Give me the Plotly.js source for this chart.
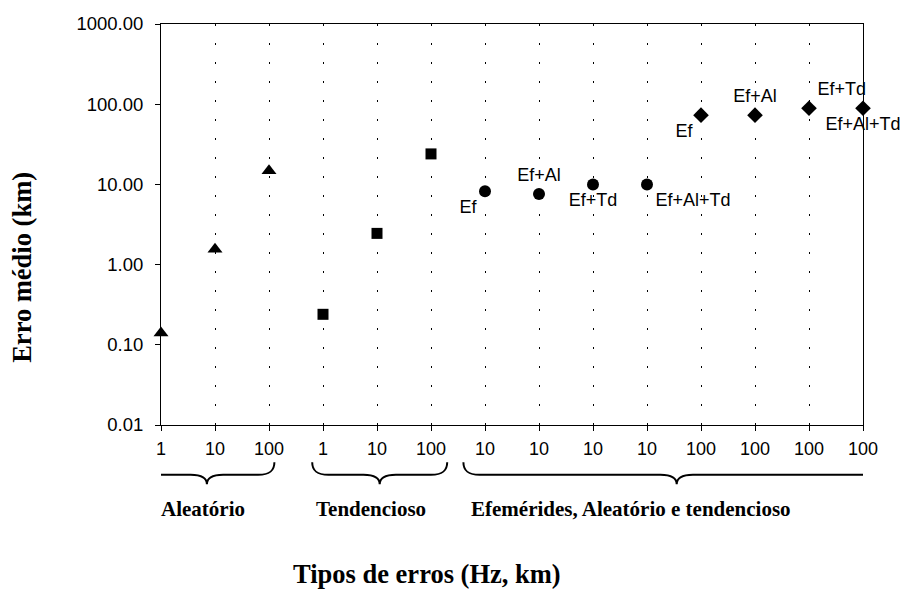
<!DOCTYPE html>
<html>
<head>
<meta charset="utf-8">
<script src="https://cdn.plot.ly/plotly-3.0.1.min.js"></script>
<style>html,body{margin:0;padding:0;background:#fff;}#chart{width:916px;height:590px;}</style>
</head>
<body>
<div id="chart"></div>
<script>
// ---- data ----
var xTickLabels = ['1','10','100','1','10','100','10','10','10','10','100','100','100','100'];
var yTickValues = [0.01, 0.1, 1, 10, 100, 1000];
var yTickLabels = ['0.01','0.10','1.00','10.00','100.00','1000.00'];

var aleatorioX = [0, 1, 2];
var aleatorioY = [0.14, 1.55, 14.8];

var tendenciosoX = [3, 4, 5];
var tendenciosoY = [0.24, 2.45, 24];

var efem10X = [6, 7, 8, 9];
var efem10Y = [8.2, 7.6, 10, 10];
var efem10Labels = ['Ef', 'Ef+Al', 'Ef+Td', 'Ef+Al+Td'];

var efem100X = [10, 11, 12, 13];
var efem100Y = [73, 73, 89, 89];
var efem100Labels = ['Ef', 'Ef+Al', 'Ef+Td', 'Ef+Al+Td'];

var groupNames = ['Aleatório', 'Tendencioso', 'Efemérides, Aleatório e tendencioso'];
var yTitle = 'Erro médio (km)';
var xTitle = 'Tipos de erros (Hz, km)';

// ---- layout config (positions / styles) ----
var braceSpans = [[-0.4, 0.85, 2.1], [2.8, 4.05, 5.3], [5.6, 9.55, 13.35]];
var groupLabelX = [0.78, 3.88, 8.7];
var sansFont = 'Arial, "Liberation Sans", Helvetica, sans-serif';
var serifFont = '"Times New Roman", "Liberation Serif", Times, serif';

function bracePath(x0, xm, x1) {
  var yT = -0.093, yM = -0.124, yP = -0.148, c = 0.3, ct = 0.12;
  return 'M' + x0 + ',' + yT +
    ' C' + x0 + ',' + (yM + 0.01) + ' ' + (x0 + 0.08) + ',' + yM + ' ' + (x0 + c) + ',' + yM +
    ' L' + (xm - c) + ',' + yM +
    ' C' + (xm - ct) + ',' + yM + ' ' + xm + ',' + (yM - 0.008) + ' ' + xm + ',' + yP +
    ' C' + xm + ',' + (yM - 0.008) + ' ' + (xm + ct) + ',' + yM + ' ' + (xm + c) + ',' + yM +
    ' L' + (x1 - c) + ',' + yM +
    ' C' + (x1 - 0.08) + ',' + yM + ' ' + x1 + ',' + (yM + 0.01) + ' ' + x1 + ',' + yT;
}

var labelFont = {family: sansFont, size: 18, color: '#000'};

var traces = [
  {x: aleatorioX, y: aleatorioY, mode: 'markers', type: 'scatter', cliponaxis: false,
   marker: {symbol: 'triangle-up', size: 13, color: '#000'}},
  {x: tendenciosoX, y: tendenciosoY, mode: 'markers', type: 'scatter', cliponaxis: false,
   marker: {symbol: 'square', size: 11, color: '#000'}},
  {x: efem10X, y: efem10Y, mode: 'markers+text', type: 'scatter', cliponaxis: false,
   text: efem10Labels, textposition: ['bottom left', 'top center', 'bottom center', 'bottom right'],
   textfont: labelFont, marker: {symbol: 'circle', size: 12, color: '#000'}},
  {x: efem100X, y: efem100Y, mode: 'markers+text', type: 'scatter', cliponaxis: false,
   text: efem100Labels, textposition: ['bottom left', 'top center', 'top right', 'bottom center'],
   textfont: labelFont, marker: {symbol: 'diamond', size: 12, color: '#000'}}
];

var shapes = braceSpans.map(function (s) {
  return {type: 'path', xref: 'x', yref: 'paper', path: bracePath(s[0], s[1], s[2]),
          line: {color: '#000', width: 2}};
});

var annotations = groupNames.map(function (name, i) {
  return {text: '<b>' + name + '</b>', x: groupLabelX[i], xref: 'x', y: -0.21, yref: 'paper',
          xanchor: 'center', yanchor: 'middle', showarrow: false,
          font: {family: serifFont, size: 21, color: '#000'}};
});
annotations.push({text: '<b>' + xTitle + '</b>', x: 0.379, xref: 'paper', y: -0.372, yref: 'paper',
  xanchor: 'center', yanchor: 'middle', showarrow: false,
  font: {family: serifFont, size: 26.5, color: '#000'}});
annotations.push({text: '<b>' + yTitle + '</b>', x: -0.198, xref: 'paper', y: 0.392, yref: 'paper',
  xanchor: 'center', yanchor: 'middle', showarrow: false, textangle: -90,
  font: {family: serifFont, size: 26.5, color: '#000'}});

var layout = {
  width: 916, height: 590,
  margin: {l: 161, r: 53, t: 24, b: 165},
  paper_bgcolor: '#fff', plot_bgcolor: '#fff',
  showlegend: false,
  xaxis: {
    range: [0, 13], autorange: false,
    tickmode: 'array', tickvals: xTickLabels.map(function (_, i) { return i; }), ticktext: xTickLabels,
    ticks: 'outside', ticklen: 5, tickcolor: '#000', tickwidth: 1,
    showline: true, linecolor: '#000', linewidth: 1, mirror: true,
    showgrid: true, gridcolor: '#000', gridwidth: 1, griddash: '2px,17px',
    zeroline: false, ticklabelstandoff: 2,
    tickfont: {family: sansFont, size: 18, color: '#000'}
  },
  yaxis: {
    type: 'log', range: [-2, 3], autorange: false,
    tickmode: 'array', tickvals: yTickValues, ticktext: yTickLabels,
    ticks: 'outside', ticklen: 5, tickcolor: '#000', tickwidth: 1,
    showline: true, linecolor: '#000', linewidth: 1, mirror: true,
    showgrid: false, zeroline: false, ticklabelstandoff: 8,
    tickfont: {family: sansFont, size: 18.5, color: '#000'}
  },
  shapes: shapes,
  annotations: annotations
};

Plotly.newPlot('chart', traces, layout, {staticPlot: true, displayModeBar: false});
</script>
</body>
</html>
